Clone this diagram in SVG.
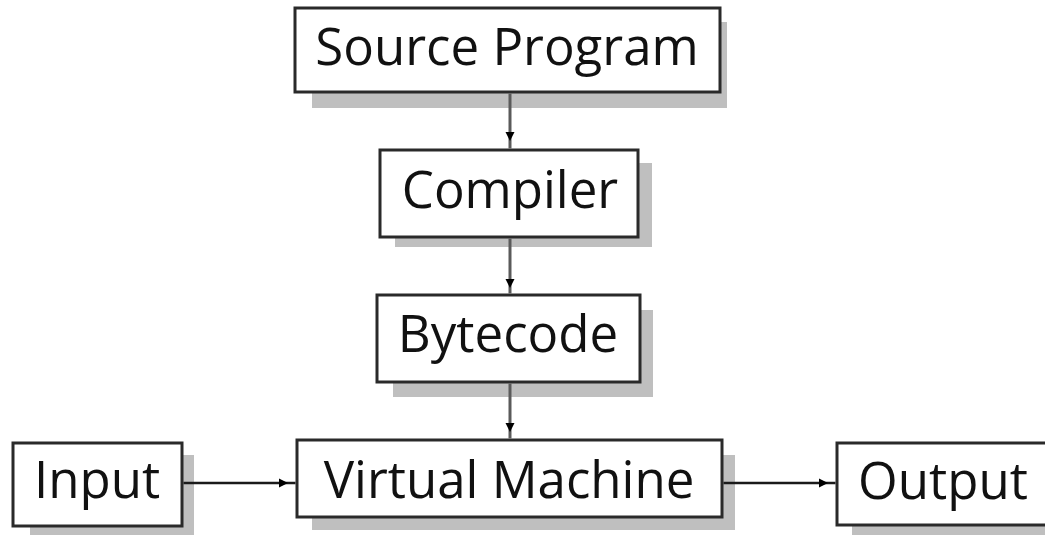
<svg xmlns="http://www.w3.org/2000/svg" width="1045" height="536" viewBox="0 0 1045 536">
  <defs>
    <style>
      .shadow { fill: #bfbfbf; }
      .box { fill: #ffffff; stroke: #2a2a2a; stroke-width: 3; }
      .label { font-family: "Open Sans", "Noto Sans", "Liberation Sans", sans-serif; font-size: 51px; fill: #111111; text-anchor: middle; }
      .edge { fill: none; stroke: #5a5a5a; stroke-width: 3; }
      .edge-h { fill: none; stroke: #1a1a1a; stroke-width: 2.5; }
    </style>
    <marker id="arrow" markerUnits="userSpaceOnUse" markerWidth="12" markerHeight="12" refX="9" refY="5" orient="auto">
      <path d="M0,0.5 L9,5 L0,9.5 z" fill="#000000"/>
    </marker>
  </defs>
  <rect width="1045" height="536" fill="#ffffff"/>

  <g id="source-program">
    <rect class="shadow" x="312" y="22" width="415" height="86"/>
    <rect class="box" x="295" y="8" width="425" height="84"/>
    <text class="label" x="507" y="65">Source Program</text>
  </g>

  <g id="compiler">
    <rect class="shadow" x="395" y="163" width="257" height="84"/>
    <rect class="box" x="380" y="150" width="258" height="87"/>
    <text class="label" x="510" y="208">Compiler</text>
  </g>

  <g id="bytecode">
    <rect class="shadow" x="393" y="310" width="260" height="87"/>
    <rect class="box" x="377" y="295" width="263" height="87"/>
    <text class="label" x="508" y="352">Bytecode</text>
  </g>

  <g id="virtual-machine">
    <rect class="shadow" x="312" y="455" width="423" height="75"/>
    <rect class="box" x="297" y="440" width="425" height="77"/>
    <text class="label" x="509" y="498">Virtual Machine</text>
  </g>

  <g id="input">
    <rect class="shadow" x="30" y="455" width="164" height="80"/>
    <rect class="box" x="13" y="443" width="169" height="83"/>
    <text class="label" x="97" y="498">Input</text>
  </g>

  <g id="output">
    <rect class="shadow" x="852" y="455" width="200" height="80"/>
    <rect class="box" x="837" y="443" width="220" height="82"/>
    <text class="label" x="943" y="499">Output</text>
  </g>

  <!-- connectors sit above the drop shadows -->
  <g id="connectors">
    <path class="edge" d="M510,93.5 V141 V148.5" marker-mid="url(#arrow)"/>
    <path class="edge" d="M510,238.5 V288 V293.5" marker-mid="url(#arrow)"/>
    <path class="edge" d="M510,383.5 V432 V438.5" marker-mid="url(#arrow)"/>
    <path class="edge-h" d="M183.5,483 H288 H295.5" marker-mid="url(#arrow)"/>
    <path class="edge-h" d="M723.5,483 H828 H835.5" marker-mid="url(#arrow)"/>
  </g>
</svg>
